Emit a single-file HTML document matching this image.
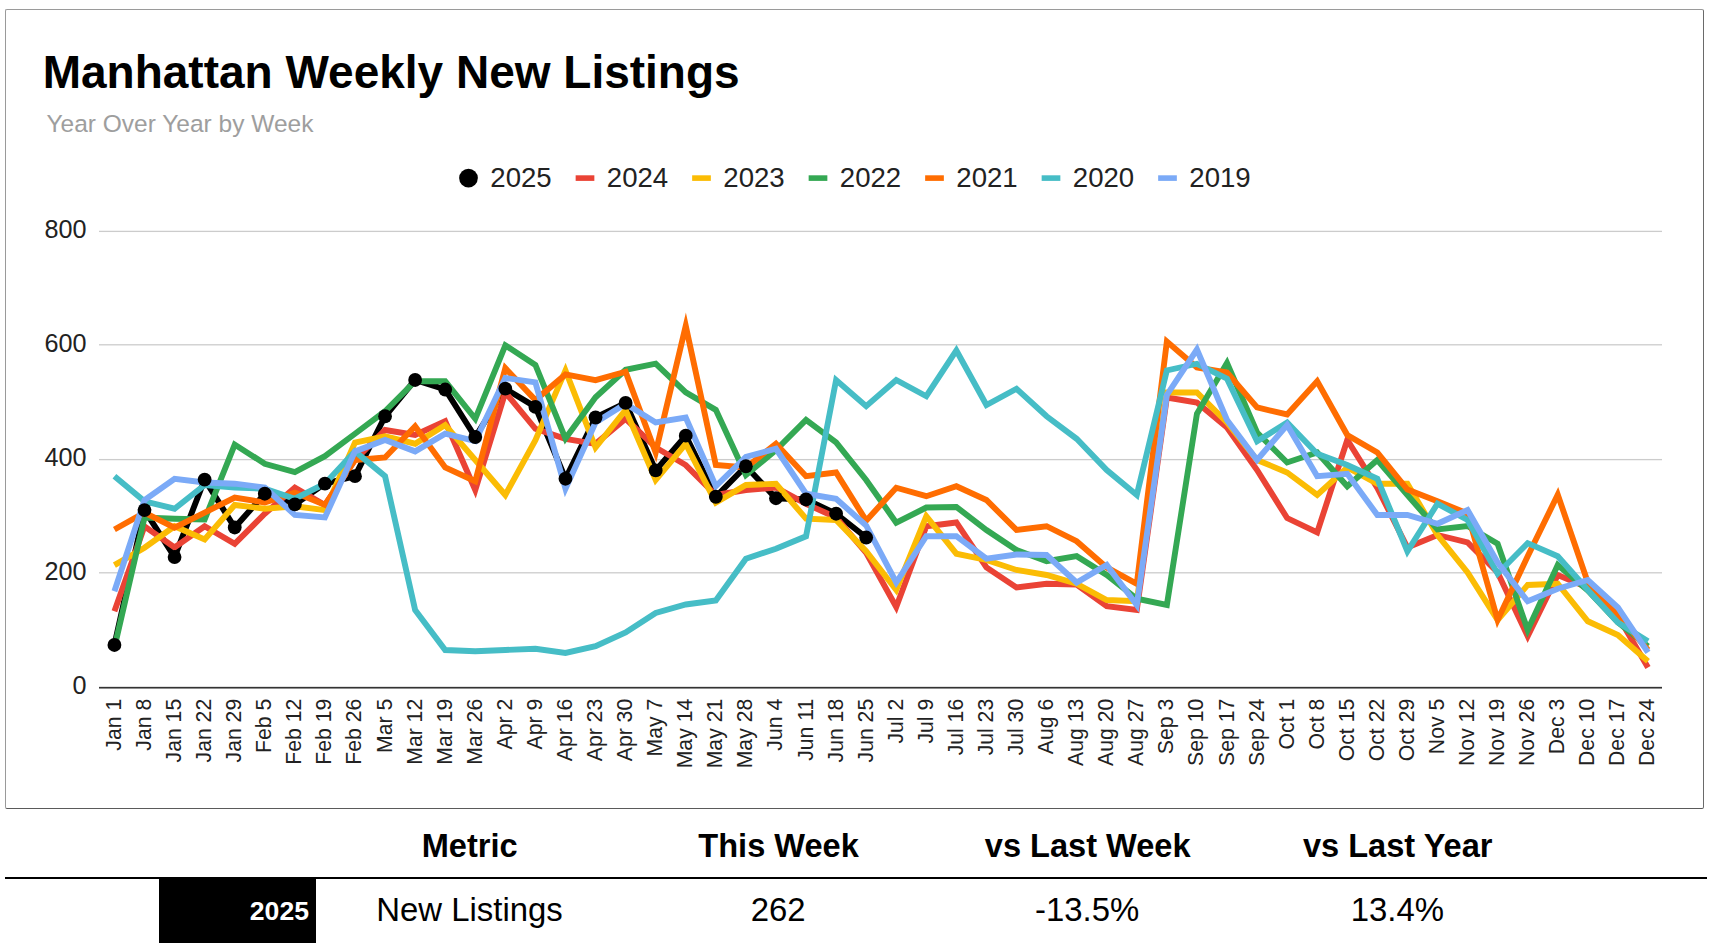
<!DOCTYPE html>
<html><head><meta charset="utf-8"><style>
html,body{margin:0;padding:0;background:#fff;width:1712px;height:950px;overflow:hidden;position:relative}
*{font-family:"Liberation Sans",sans-serif}
.box{position:absolute;left:4.8px;top:8.8px;width:1699.4px;height:800px;border-top:1.2px solid #9a9a9a;border-left:1.2px solid #9a9a9a;border-right:1.2px solid #6a6a6a;border-bottom:1.2px solid #5a5a5a;border-radius:2px;box-sizing:border-box}
.t{position:absolute;white-space:nowrap;line-height:1}
</style></head><body>
<div class="box"></div>
<div class="t" style="left:42.7px;top:49.4px;font-size:46.0px;font-weight:bold;color:#000">Manhattan Weekly New Listings</div>
<div class="t" style="left:46.5px;top:112.4px;font-size:24.5px;color:#9e9e9e">Year Over Year by Week</div>
<svg width="1712" height="950" viewBox="0 0 1712 950" style="position:absolute;left:0;top:0"><rect x="99.0" y="230.75" width="1563.0" height="1.3" fill="#cccccc"/><rect x="99.0" y="344.15" width="1563.0" height="1.3" fill="#cccccc"/><rect x="99.0" y="458.95" width="1563.0" height="1.3" fill="#cccccc"/><rect x="99.0" y="572.15" width="1563.0" height="1.3" fill="#cccccc"/><rect x="99.0" y="686.85" width="1563.0" height="1.7" fill="#333333"/><text x="86.5" y="694.00" text-anchor="end" font-family="Liberation Sans" font-size="25.2" fill="#222222">0</text><text x="86.5" y="579.98" text-anchor="end" font-family="Liberation Sans" font-size="25.2" fill="#222222">200</text><text x="86.5" y="465.95" text-anchor="end" font-family="Liberation Sans" font-size="25.2" fill="#222222">400</text><text x="86.5" y="351.93" text-anchor="end" font-family="Liberation Sans" font-size="25.2" fill="#222222">600</text><text x="86.5" y="237.90" text-anchor="end" font-family="Liberation Sans" font-size="25.2" fill="#222222">800</text><text transform="translate(120.93,698.8) rotate(-90)" text-anchor="end" font-family="Liberation Sans" font-size="21.2" fill="#222222">Jan 1</text><text transform="translate(151.00,698.8) rotate(-90)" text-anchor="end" font-family="Liberation Sans" font-size="21.2" fill="#222222">Jan 8</text><text transform="translate(181.07,698.8) rotate(-90)" text-anchor="end" font-family="Liberation Sans" font-size="21.2" fill="#222222">Jan 15</text><text transform="translate(211.14,698.8) rotate(-90)" text-anchor="end" font-family="Liberation Sans" font-size="21.2" fill="#222222">Jan 22</text><text transform="translate(241.21,698.8) rotate(-90)" text-anchor="end" font-family="Liberation Sans" font-size="21.2" fill="#222222">Jan 29</text><text transform="translate(271.28,698.8) rotate(-90)" text-anchor="end" font-family="Liberation Sans" font-size="21.2" fill="#222222">Feb 5</text><text transform="translate(301.35,698.8) rotate(-90)" text-anchor="end" font-family="Liberation Sans" font-size="21.2" fill="#222222">Feb 12</text><text transform="translate(331.42,698.8) rotate(-90)" text-anchor="end" font-family="Liberation Sans" font-size="21.2" fill="#222222">Feb 19</text><text transform="translate(361.49,698.8) rotate(-90)" text-anchor="end" font-family="Liberation Sans" font-size="21.2" fill="#222222">Feb 26</text><text transform="translate(391.56,698.8) rotate(-90)" text-anchor="end" font-family="Liberation Sans" font-size="21.2" fill="#222222">Mar 5</text><text transform="translate(421.63,698.8) rotate(-90)" text-anchor="end" font-family="Liberation Sans" font-size="21.2" fill="#222222">Mar 12</text><text transform="translate(451.70,698.8) rotate(-90)" text-anchor="end" font-family="Liberation Sans" font-size="21.2" fill="#222222">Mar 19</text><text transform="translate(481.77,698.8) rotate(-90)" text-anchor="end" font-family="Liberation Sans" font-size="21.2" fill="#222222">Mar 26</text><text transform="translate(511.83,698.8) rotate(-90)" text-anchor="end" font-family="Liberation Sans" font-size="21.2" fill="#222222">Apr 2</text><text transform="translate(541.90,698.8) rotate(-90)" text-anchor="end" font-family="Liberation Sans" font-size="21.2" fill="#222222">Apr 9</text><text transform="translate(571.97,698.8) rotate(-90)" text-anchor="end" font-family="Liberation Sans" font-size="21.2" fill="#222222">Apr 16</text><text transform="translate(602.04,698.8) rotate(-90)" text-anchor="end" font-family="Liberation Sans" font-size="21.2" fill="#222222">Apr 23</text><text transform="translate(632.11,698.8) rotate(-90)" text-anchor="end" font-family="Liberation Sans" font-size="21.2" fill="#222222">Apr 30</text><text transform="translate(662.18,698.8) rotate(-90)" text-anchor="end" font-family="Liberation Sans" font-size="21.2" fill="#222222">May 7</text><text transform="translate(692.25,698.8) rotate(-90)" text-anchor="end" font-family="Liberation Sans" font-size="21.2" fill="#222222">May 14</text><text transform="translate(722.32,698.8) rotate(-90)" text-anchor="end" font-family="Liberation Sans" font-size="21.2" fill="#222222">May 21</text><text transform="translate(752.39,698.8) rotate(-90)" text-anchor="end" font-family="Liberation Sans" font-size="21.2" fill="#222222">May 28</text><text transform="translate(782.46,698.8) rotate(-90)" text-anchor="end" font-family="Liberation Sans" font-size="21.2" fill="#222222">Jun 4</text><text transform="translate(812.53,698.8) rotate(-90)" text-anchor="end" font-family="Liberation Sans" font-size="21.2" fill="#222222">Jun 11</text><text transform="translate(842.60,698.8) rotate(-90)" text-anchor="end" font-family="Liberation Sans" font-size="21.2" fill="#222222">Jun 18</text><text transform="translate(872.67,698.8) rotate(-90)" text-anchor="end" font-family="Liberation Sans" font-size="21.2" fill="#222222">Jun 25</text><text transform="translate(902.73,698.8) rotate(-90)" text-anchor="end" font-family="Liberation Sans" font-size="21.2" fill="#222222">Jul 2</text><text transform="translate(932.80,698.8) rotate(-90)" text-anchor="end" font-family="Liberation Sans" font-size="21.2" fill="#222222">Jul 9</text><text transform="translate(962.87,698.8) rotate(-90)" text-anchor="end" font-family="Liberation Sans" font-size="21.2" fill="#222222">Jul 16</text><text transform="translate(992.94,698.8) rotate(-90)" text-anchor="end" font-family="Liberation Sans" font-size="21.2" fill="#222222">Jul 23</text><text transform="translate(1023.01,698.8) rotate(-90)" text-anchor="end" font-family="Liberation Sans" font-size="21.2" fill="#222222">Jul 30</text><text transform="translate(1053.08,698.8) rotate(-90)" text-anchor="end" font-family="Liberation Sans" font-size="21.2" fill="#222222">Aug 6</text><text transform="translate(1083.15,698.8) rotate(-90)" text-anchor="end" font-family="Liberation Sans" font-size="21.2" fill="#222222">Aug 13</text><text transform="translate(1113.22,698.8) rotate(-90)" text-anchor="end" font-family="Liberation Sans" font-size="21.2" fill="#222222">Aug 20</text><text transform="translate(1143.29,698.8) rotate(-90)" text-anchor="end" font-family="Liberation Sans" font-size="21.2" fill="#222222">Aug 27</text><text transform="translate(1173.36,698.8) rotate(-90)" text-anchor="end" font-family="Liberation Sans" font-size="21.2" fill="#222222">Sep 3</text><text transform="translate(1203.43,698.8) rotate(-90)" text-anchor="end" font-family="Liberation Sans" font-size="21.2" fill="#222222">Sep 10</text><text transform="translate(1233.50,698.8) rotate(-90)" text-anchor="end" font-family="Liberation Sans" font-size="21.2" fill="#222222">Sep 17</text><text transform="translate(1263.57,698.8) rotate(-90)" text-anchor="end" font-family="Liberation Sans" font-size="21.2" fill="#222222">Sep 24</text><text transform="translate(1293.63,698.8) rotate(-90)" text-anchor="end" font-family="Liberation Sans" font-size="21.2" fill="#222222">Oct 1</text><text transform="translate(1323.70,698.8) rotate(-90)" text-anchor="end" font-family="Liberation Sans" font-size="21.2" fill="#222222">Oct 8</text><text transform="translate(1353.77,698.8) rotate(-90)" text-anchor="end" font-family="Liberation Sans" font-size="21.2" fill="#222222">Oct 15</text><text transform="translate(1383.84,698.8) rotate(-90)" text-anchor="end" font-family="Liberation Sans" font-size="21.2" fill="#222222">Oct 22</text><text transform="translate(1413.91,698.8) rotate(-90)" text-anchor="end" font-family="Liberation Sans" font-size="21.2" fill="#222222">Oct 29</text><text transform="translate(1443.98,698.8) rotate(-90)" text-anchor="end" font-family="Liberation Sans" font-size="21.2" fill="#222222">Nov 5</text><text transform="translate(1474.05,698.8) rotate(-90)" text-anchor="end" font-family="Liberation Sans" font-size="21.2" fill="#222222">Nov 12</text><text transform="translate(1504.12,698.8) rotate(-90)" text-anchor="end" font-family="Liberation Sans" font-size="21.2" fill="#222222">Nov 19</text><text transform="translate(1534.19,698.8) rotate(-90)" text-anchor="end" font-family="Liberation Sans" font-size="21.2" fill="#222222">Nov 26</text><text transform="translate(1564.26,698.8) rotate(-90)" text-anchor="end" font-family="Liberation Sans" font-size="21.2" fill="#222222">Dec 3</text><text transform="translate(1594.33,698.8) rotate(-90)" text-anchor="end" font-family="Liberation Sans" font-size="21.2" fill="#222222">Dec 10</text><text transform="translate(1624.40,698.8) rotate(-90)" text-anchor="end" font-family="Liberation Sans" font-size="21.2" fill="#222222">Dec 17</text><text transform="translate(1654.47,698.8) rotate(-90)" text-anchor="end" font-family="Liberation Sans" font-size="21.2" fill="#222222">Dec 24</text><polyline points="114.43,644.98 144.50,510.09 174.57,557.01 204.64,479.53 234.71,527.48 264.78,493.73 294.85,504.45 324.92,483.69 354.99,476.17 385.06,416.25 415.13,379.99 445.20,389.51 475.27,437.00 505.33,388.71 535.40,406.90 565.47,478.73 595.54,417.50 625.61,402.96 655.68,470.41 685.75,435.69 715.82,496.75 745.89,466.25 775.96,498.23 806.03,499.49 836.10,513.74 866.17,537.51" fill="none" stroke="#000000" stroke-width="5.9" stroke-linejoin="miter" stroke-miterlimit="10" stroke-linecap="butt"/><polyline points="114.43,611.29 144.50,526.34 174.57,547.49 204.64,526.28 234.71,543.73 264.78,513.74 294.85,487.51 324.92,504.96 354.99,459.98 385.06,429.99 415.13,435.01 445.20,421.27 475.27,490.02 505.33,392.47 535.40,428.79 565.47,438.83 595.54,443.84 625.61,418.76 655.68,447.49 685.75,465.05 715.82,494.98 745.89,490.02 775.96,487.51 806.03,503.82 836.10,517.50 866.17,552.85 896.23,607.01 926.30,526.28 956.37,522.46 986.44,567.45 1016.51,587.46 1046.58,583.75 1076.65,584.49 1106.72,606.21 1136.79,609.98 1166.86,397.49 1196.93,402.51 1227.00,427.48 1257.07,470.01 1287.13,518.07 1317.20,532.50 1347.27,439.97 1377.34,487.86 1407.41,547.49 1437.48,535.01 1467.55,542.47 1497.62,572.46 1527.69,636.26 1557.76,574.97 1587.83,587.63 1617.90,616.13 1647.97,667.45" fill="none" stroke="#ea4335" stroke-width="5.9" stroke-linejoin="miter" stroke-miterlimit="10" stroke-linecap="butt"/><polyline points="114.43,565.17 144.50,547.72 174.57,526.23 204.64,539.51 234.71,504.96 264.78,508.72 294.85,506.21 324.92,510.09 354.99,442.53 385.06,436.26 415.13,443.73 445.20,424.97 475.27,459.98 505.33,494.98 535.40,440.08 565.47,370.41 595.54,447.49 625.61,409.98 655.68,479.99 685.75,443.84 715.82,502.51 745.89,485.01 775.96,483.75 806.03,518.70 836.10,519.95 866.17,551.20 896.23,589.97 926.30,516.25 956.37,553.71 986.44,559.98 1016.51,569.95 1046.58,574.97 1076.65,583.75 1106.72,600.00 1136.79,601.25 1166.86,392.47 1196.93,392.47 1227.00,422.52 1257.07,459.98 1287.13,472.46 1317.20,494.98 1347.27,467.50 1377.34,483.75 1407.41,483.75 1437.48,535.01 1467.55,572.46 1497.62,619.95 1527.69,584.95 1557.76,583.75 1587.83,621.27 1617.90,635.01 1647.97,661.23" fill="none" stroke="#fbbc04" stroke-width="5.9" stroke-linejoin="miter" stroke-miterlimit="10" stroke-linecap="butt"/><polyline points="114.43,647.49 144.50,517.56 174.57,518.81 204.64,519.56 234.71,444.53 264.78,463.74 294.85,472.01 324.92,456.21 354.99,433.75 385.06,411.23 415.13,381.24 445.20,381.24 475.27,418.76 505.33,345.32 535.40,364.94 565.47,438.60 595.54,397.32 625.61,369.84 655.68,363.63 685.75,392.36 715.82,409.86 745.89,474.97 775.96,450.00 806.03,420.01 836.10,442.47 866.17,479.99 896.23,522.63 926.30,507.53 956.37,506.96 986.44,529.99 1016.51,550.00 1046.58,561.23 1076.65,556.21 1106.72,574.97 1136.79,598.75 1166.86,604.96 1196.93,413.74 1227.00,363.00 1257.07,432.50 1287.13,462.49 1317.20,452.51 1347.27,486.26 1377.34,459.98 1407.41,494.98 1437.48,529.48 1467.55,526.05 1497.62,543.73 1527.69,629.99 1557.76,564.99 1587.83,590.48 1617.90,622.41 1647.97,646.35" fill="none" stroke="#34a853" stroke-width="5.9" stroke-linejoin="miter" stroke-miterlimit="10" stroke-linecap="butt"/><polyline points="114.43,529.48 144.50,512.60 174.57,527.59 204.64,512.60 234.71,497.55 264.78,502.57 294.85,492.59 324.92,504.96 354.99,459.98 385.06,457.47 415.13,426.28 445.20,467.50 475.27,481.24 505.33,368.13 535.40,400.06 565.47,374.40 595.54,380.10 625.61,371.72 655.68,452.51 685.75,325.94 715.82,464.94 745.89,467.50 775.96,443.79 806.03,476.23 836.10,472.46 866.17,520.64 896.23,487.74 926.30,496.18 956.37,486.20 986.44,500.00 1016.51,529.99 1046.58,526.23 1076.65,541.22 1106.72,567.45 1136.79,583.75 1166.86,341.51 1196.93,367.50 1227.00,372.52 1257.07,407.47 1287.13,414.48 1317.20,381.24 1347.27,435.01 1377.34,452.51 1407.41,489.57 1437.48,501.25 1467.55,513.51 1497.62,619.95 1527.69,556.27 1557.76,494.70 1587.83,582.50 1617.90,614.99 1647.97,650.00" fill="none" stroke="#ff6d01" stroke-width="5.9" stroke-linejoin="miter" stroke-miterlimit="10" stroke-linecap="butt"/><polyline points="114.43,476.23 144.50,501.25 174.57,508.72 204.64,485.01 234.71,487.51 264.78,488.77 294.85,498.75 324.92,483.69 354.99,451.37 385.06,476.23 415.13,609.98 445.20,650.00 475.27,651.25 505.33,650.00 535.40,648.75 565.47,652.96 595.54,646.24 625.61,632.50 655.68,613.00 685.75,604.50 715.82,600.46 745.89,558.72 775.96,548.75 806.03,536.26 836.10,379.99 866.17,406.21 896.23,379.99 926.30,396.24 956.37,350.46 986.44,405.02 1016.51,388.77 1046.58,416.25 1076.65,438.77 1106.72,470.01 1136.79,494.98 1166.86,370.41 1196.93,363.74 1227.00,378.73 1257.07,441.22 1287.13,422.52 1317.20,453.76 1347.27,465.05 1377.34,478.73 1407.41,551.25 1437.48,503.71 1467.55,519.95 1497.62,573.72 1527.69,543.16 1557.76,556.21 1587.83,589.97 1617.90,622.46 1647.97,641.22" fill="none" stroke="#46bdc6" stroke-width="5.9" stroke-linejoin="miter" stroke-miterlimit="10" stroke-linecap="butt"/><polyline points="114.43,591.22 144.50,500.00 174.57,478.73 204.64,482.50 234.71,483.69 264.78,487.51 294.85,514.99 324.92,517.50 354.99,451.37 385.06,439.97 415.13,451.37 445.20,433.69 475.27,441.11 505.33,377.99 535.40,382.44 565.47,488.77 595.54,422.46 625.61,403.71 655.68,422.46 685.75,417.50 715.82,486.26 745.89,456.96 775.96,448.75 806.03,493.73 836.10,498.75 866.17,525.48 896.23,582.50 926.30,536.26 956.37,536.20 986.44,558.72 1016.51,554.50 1046.58,554.96 1076.65,582.50 1106.72,564.99 1136.79,604.96 1166.86,394.98 1196.93,349.54 1227.00,420.01 1257.07,459.98 1287.13,424.97 1317.20,476.23 1347.27,473.77 1377.34,514.99 1407.41,514.99 1437.48,523.77 1467.55,509.98 1497.62,562.49 1527.69,601.25 1557.76,588.77 1587.83,579.99 1617.90,607.47 1647.97,652.45" fill="none" stroke="#7baaf7" stroke-width="5.9" stroke-linejoin="miter" stroke-miterlimit="10" stroke-linecap="butt"/><circle cx="114.43" cy="644.98" r="6.9" fill="#000000"/><circle cx="144.50" cy="510.09" r="6.9" fill="#000000"/><circle cx="174.57" cy="557.01" r="6.9" fill="#000000"/><circle cx="204.64" cy="479.53" r="6.9" fill="#000000"/><circle cx="234.71" cy="527.48" r="6.9" fill="#000000"/><circle cx="264.78" cy="493.73" r="6.9" fill="#000000"/><circle cx="294.85" cy="504.45" r="6.9" fill="#000000"/><circle cx="324.92" cy="483.69" r="6.9" fill="#000000"/><circle cx="354.99" cy="476.17" r="6.9" fill="#000000"/><circle cx="385.06" cy="416.25" r="6.9" fill="#000000"/><circle cx="415.13" cy="379.99" r="6.9" fill="#000000"/><circle cx="445.20" cy="389.51" r="6.9" fill="#000000"/><circle cx="475.27" cy="437.00" r="6.9" fill="#000000"/><circle cx="505.33" cy="388.71" r="6.9" fill="#000000"/><circle cx="535.40" cy="406.90" r="6.9" fill="#000000"/><circle cx="565.47" cy="478.73" r="6.9" fill="#000000"/><circle cx="595.54" cy="417.50" r="6.9" fill="#000000"/><circle cx="625.61" cy="402.96" r="6.9" fill="#000000"/><circle cx="655.68" cy="470.41" r="6.9" fill="#000000"/><circle cx="685.75" cy="435.69" r="6.9" fill="#000000"/><circle cx="715.82" cy="496.75" r="6.9" fill="#000000"/><circle cx="745.89" cy="466.25" r="6.9" fill="#000000"/><circle cx="775.96" cy="498.23" r="6.9" fill="#000000"/><circle cx="806.03" cy="499.49" r="6.9" fill="#000000"/><circle cx="836.10" cy="513.74" r="6.9" fill="#000000"/><circle cx="866.17" cy="537.51" r="6.9" fill="#000000"/><circle cx="468.50" cy="178.1" r="9.35" fill="#000"/><text x="490.30" y="186.80" font-family="Liberation Sans" font-size="27.6" fill="#222222">2025</text><rect x="575.65" y="175.30" width="18.7" height="5.6" fill="#ea4335"/><text x="606.80" y="186.80" font-family="Liberation Sans" font-size="27.6" fill="#222222">2024</text><rect x="692.15" y="175.30" width="18.7" height="5.6" fill="#fbbc04"/><text x="723.30" y="186.80" font-family="Liberation Sans" font-size="27.6" fill="#222222">2023</text><rect x="808.65" y="175.30" width="18.7" height="5.6" fill="#34a853"/><text x="839.80" y="186.80" font-family="Liberation Sans" font-size="27.6" fill="#222222">2022</text><rect x="925.15" y="175.30" width="18.7" height="5.6" fill="#ff6d01"/><text x="956.30" y="186.80" font-family="Liberation Sans" font-size="27.6" fill="#222222">2021</text><rect x="1041.65" y="175.30" width="18.7" height="5.6" fill="#46bdc6"/><text x="1072.80" y="186.80" font-family="Liberation Sans" font-size="27.6" fill="#222222">2020</text><rect x="1158.15" y="175.30" width="18.7" height="5.6" fill="#7baaf7"/><text x="1189.30" y="186.80" font-family="Liberation Sans" font-size="27.6" fill="#222222">2019</text></svg>
<div style="position:absolute;left:5px;top:876.6px;width:1702px;height:2px;background:#000"></div>
<div style="position:absolute;left:159.2px;top:877.8px;width:157px;height:65px;background:#000"></div>
<div class="t" style="left:269.7px;width:400px;text-align:center;top:829.6px;font-size:32.6px;font-weight:bold;color:#000">Metric</div>
<div class="t" style="left:578.6px;width:400px;text-align:center;top:829.6px;font-size:32.6px;font-weight:bold;color:#000">This Week</div>
<div class="t" style="left:887.7px;width:400px;text-align:center;top:829.6px;font-size:32.6px;font-weight:bold;color:#000">vs Last Week</div>
<div class="t" style="left:1197.7px;width:400px;text-align:center;top:829.6px;font-size:32.6px;font-weight:bold;color:#000">vs Last Year</div>
<div class="t" style="left:269.5px;width:400px;text-align:center;top:893.6px;font-size:32.9px;font-weight:normal;color:#000">New Listings</div>
<div class="t" style="left:578.2px;width:400px;text-align:center;top:893.6px;font-size:32.9px;font-weight:normal;color:#000">262</div>
<div class="t" style="left:887.2px;width:400px;text-align:center;top:893.6px;font-size:32.9px;font-weight:normal;color:#000">-13.5%</div>
<div class="t" style="left:1197.4px;width:400px;text-align:center;top:893.6px;font-size:32.9px;font-weight:normal;color:#000">13.4%</div>
<div class="t" style="left:100px;width:209px;text-align:right;top:898.4px;font-size:26.6px;font-weight:bold;color:#fff">2025</div>
</body></html>
